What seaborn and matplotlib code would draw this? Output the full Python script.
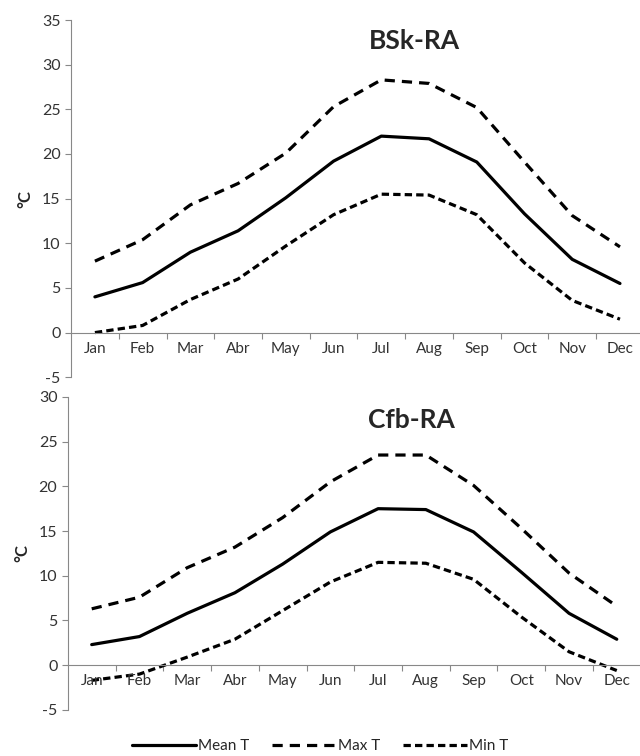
import pandas as pd
import seaborn as sns
import matplotlib.pyplot as plt

# monthly temperatures
months = ["Jan", "Feb", "Mar", "Abr", "May", "Jun", "Jul", "Aug", "Sep", "Oct", "Nov", "Dec"]

bsk_mean = [4.0, 5.6, 9.0, 11.4, 15.1, 19.2, 22.0, 21.7, 19.1, 13.3, 8.2, 5.5]
bsk_max = [8.0, 10.4, 14.3, 16.7, 20.1, 25.3, 28.3, 27.9, 25.2, 19.1, 13.1, 9.6]
bsk_min = [0.0, 0.8, 3.7, 6.0, 9.7, 13.2, 15.5, 15.4, 13.2, 7.8, 3.6, 1.5]

cfb_mean = [2.3, 3.2, 5.8, 8.1, 11.3, 14.9, 17.5, 17.4, 14.9, 10.4, 5.8, 2.9]
cfb_max = [6.3, 7.6, 10.9, 13.2, 16.5, 20.5, 23.5, 23.5, 20.1, 15.3, 10.3, 6.6]
cfb_min = [-1.7, -1.0, 0.9, 2.9, 6.1, 9.3, 11.5, 11.4, 9.6, 5.4, 1.5, -0.6]

series = ["Mean T", "Max T", "Min T"]

sns.set_style("white")
plt.rcParams['font.family'] = ['Lato', 'DejaVu Sans']
plt.rcParams['axes.unicode_minus'] = False


def make_df(mean, mx, mn):
    rows = []
    for name, vals in zip(series, [mean, mx, mn]):
        for i, v in enumerate(vals):
            rows.append({"x": i, "T": v, "series": name})
    return pd.DataFrame(rows)


dashes = {"Mean T": "", "Max T": (3.2, 2.2), "Min T": (2.3, 1.3)}

fig = plt.figure(figsize=(6.4, 7.56), dpi=100)
ax1 = fig.add_axes([0.111, 0.501, 0.895, 0.4725])
ax2 = fig.add_axes([0.106, 0.061, 0.895, 0.414])

panels = [
    (ax1, make_df(bsk_mean, bsk_max, bsk_min), "BSk-RA", (-5, 35)),
    (ax2, make_df(cfb_mean, cfb_max, cfb_min), "Cfb-RA", (-5, 30)),
]

for ax, df, title, ylim in panels:
    sns.lineplot(data=df, x="x", y="T", style="series", dashes=dashes,
                 color="black", linewidth=2.3, ax=ax, legend=(ax is ax1))
    ax.set_xlim(-0.5, 11.5)
    ax.set_ylim(*ylim)
    ax.set_yticks(range(ylim[0], ylim[1] + 1, 5))
    ax.tick_params(axis="y", labelsize=11.5, length=4, left=True, width=0.8,
                   colors="#888888", labelcolor="#333333")
    # horizontal axis crosses at zero, ticks between categories
    ax.spines["bottom"].set_position(("data", 0))
    ax.spines["bottom"].set_color("#888888")
    ax.spines["left"].set_color("#888888")
    ax.spines["top"].set_visible(False)
    ax.spines["right"].set_visible(False)
    ax.set_xticks([i + 0.5 for i in range(11)])
    ax.set_xticklabels([])
    ax.tick_params(axis="x", bottom=True, length=4, colors="#888888", width=0.8)
    for i, m in enumerate(months):
        ax.text(i, -1.8, m, ha="center", va="center", fontsize=11,
                color="#333333")
    ax.set_xlabel("")
    ax.set_ylabel("°C", fontsize=12, fontweight="bold", labelpad=6)
    ax.text(0.60, 0.94 if ax is ax1 else 0.925, title, transform=ax.transAxes,
            ha="center", va="center", fontsize=19, fontweight="bold")
    ax.set_facecolor("none")

handles, labels = ax1.get_legend_handles_labels()
ax1.get_legend().remove()
fig.legend(handles, labels, loc="center", bbox_to_anchor=(0.5, 0.013), ncol=3,
           frameon=False, fontsize=11, handlelength=4.2, columnspacing=1.5,
           handletextpad=0.1)

fig.savefig("out.png", dpi=100)
